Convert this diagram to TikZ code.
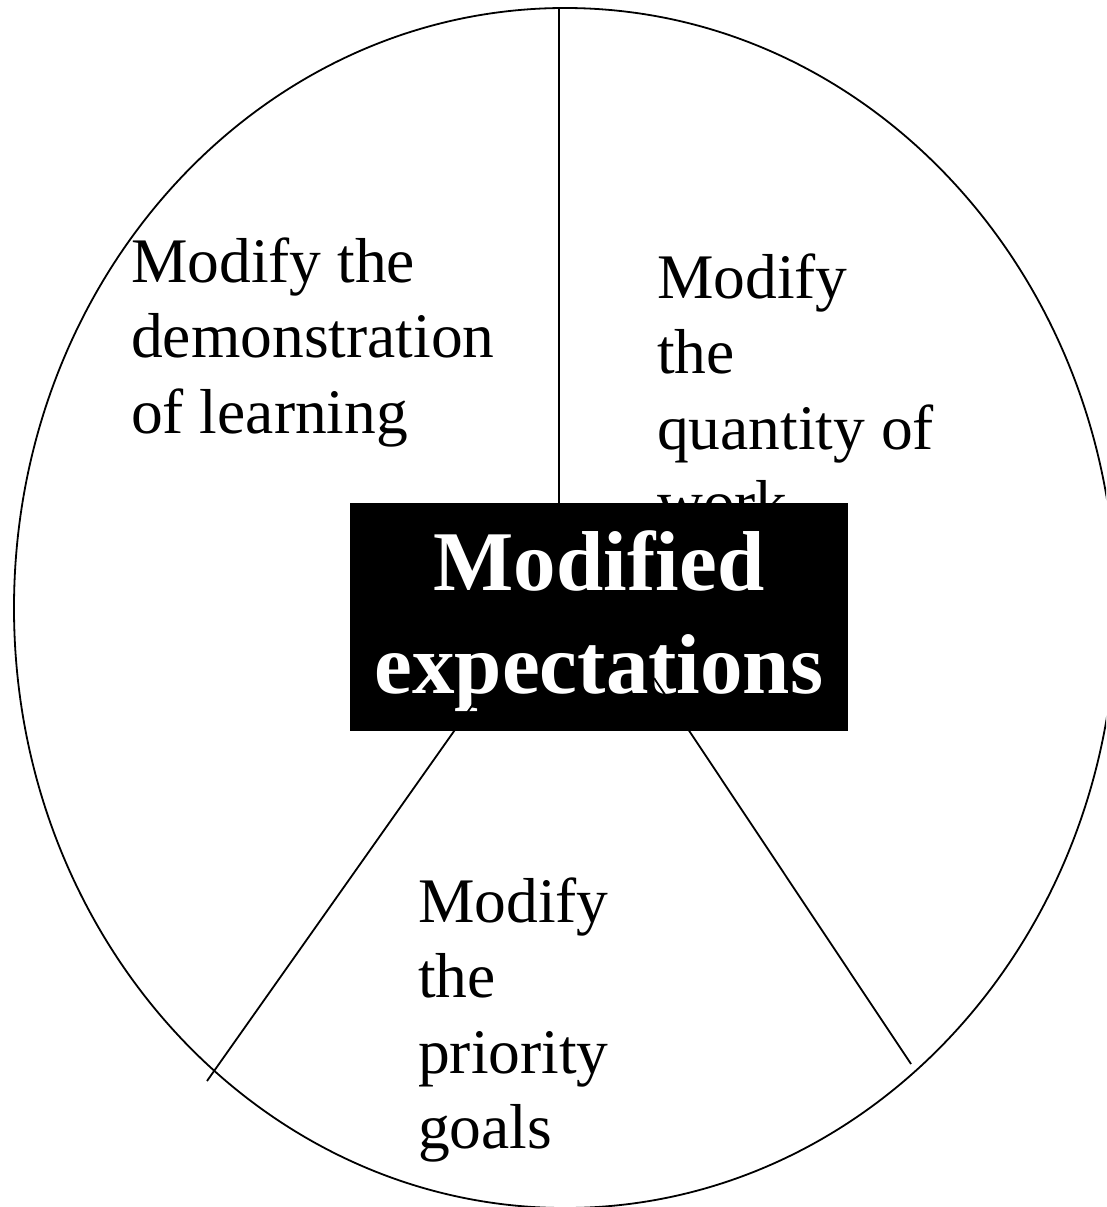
\documentclass[tikz,border=0pt]{standalone}
\usepackage{fontspec}
\setmainfont{Liberation Serif}
% stacked lines: first line's baseline is the box baseline
\newcommand\leftlines[1]{\vtop{\halign{##\hfil\cr #1}}}
\newcommand\centerlines[1]{\vtop{\halign{\hfil##\hfil\cr #1}}}
\begin{document}
\begin{tikzpicture}[x=1pt,y=-1pt,
  rim/.style={line width=1.8pt},
  spoke/.style={line width=1.8pt},
  label/.style={anchor=base west,inner sep=0pt,font=\fontsize{63.5}{75.5}\selectfont},
  hub/.style={fill=black,draw=none,inner sep=0pt,minimum width=498pt,minimum height=228pt},
  hubtext/.style={anchor=base,inner sep=0pt,text=white,font=\fontsize{85}{103}\selectfont\bfseries}]
\useasboundingbox (0,0) rectangle (1106,1207);
\clip (0,0) rectangle (1106,1207);
\fill[white] (0,0) rectangle (1106,1207);

% outer wheel
\draw[rim] (565,608) ellipse [x radius=551pt, y radius=600pt];

% segment labels
\node[label] (demo) at (131,282) {\leftlines{Modify the\cr demonstration\cr of learning\cr}};
\node[label] (qty) at (657,298) {\leftlines{Modify\cr the\cr quantity of\cr work\cr}};
\node[label] (prio) at (418,922) {\leftlines{Modify\cr the\cr priority\cr goals\cr}};

% central hub
\node[hub] (core) at (599,617) {};
\node[hubtext] (coretext) at (599,590) {\centerlines{Modified\cr expectations\cr}};

% spokes
\coordinate (rimtop) at (559,8);
\coordinate (hubtop) at (559,503);
\coordinate (rimleft) at (207,1081);
\coordinate (hubleft) at (476,700);
\coordinate (rimright) at (911,1064);
\coordinate (hubright) at (654,678);
\draw[spoke] (rimtop) -- (hubtop);
\draw[spoke] (rimleft) -- (hubleft);
\draw[spoke] (rimright) -- (hubright);
\end{tikzpicture}
\end{document}
